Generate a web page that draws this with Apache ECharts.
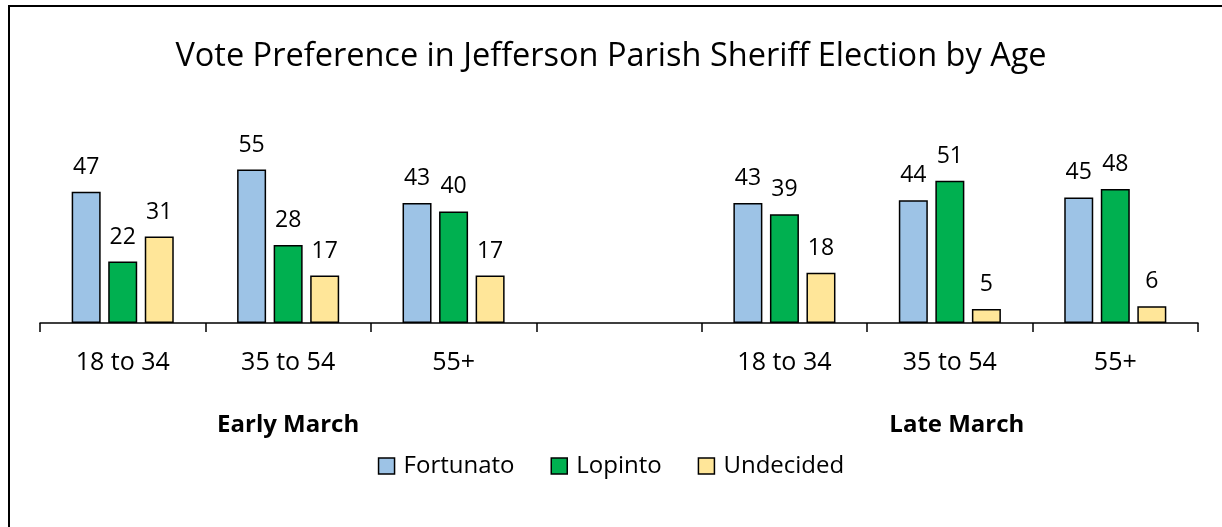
<!DOCTYPE html>
<html>
<head>
<meta charset="utf-8">
<script src="https://cdn.jsdelivr.net/npm/echarts@6/dist/echarts.min.js"></script>
<style>
html,body{margin:0;padding:0;background:#fff;}
#chart{width:1222px;height:527px;}
</style>
</head>
<body>
<div id="chart"></div>
<script>
const categories = ["18 to 34", "35 to 54", "55+", "", "18 to 34", "35 to 54", "55+"];
const groupLabels = ["", "Early March", "", "", "", "Late March", ""];
const fortunato = [47, 55, 43, null, 43, 44, 45];
const lopinto = [22, 28, 40, null, 39, 51, 48];
const undecided = [31, 17, 17, null, 18, 5, 6];
const seriesNames = ["Fortunato", "Lopinto", "Undecided"];
const colors = ["#9DC3E6", "#00B050", "#FFE699"];

const FONT = "Open Sans";
const chart = echarts.init(document.getElementById('chart'), null, {renderer: 'canvas'});

function mkSeries(name, data, color) {
  return {
    name: name,
    type: 'bar',
    data: data,
    barWidth: 29,
    barGap: '26%',
    itemStyle: {color: color, borderColor: '#000', borderWidth: 1.5},
    label: {
      show: true, position: 'top', distance: 13,
      color: '#000', fontFamily: FONT, fontSize: 23
    }
  };
}

const groupAxisData = groupLabels.map(function (g, i) {
  return i === 5 ? {value: g, textStyle: {padding: [0, 0, 0, 14]}} : g;
});

chart.setOption({
  animation: false,
  backgroundColor: '#fff',
  title: {
    text: 'Vote Preference in Jefferson Parish Sheriff Election by Age',
    left: 'center', top: 35,
    textStyle: {fontFamily: FONT, fontSize: 32.5, fontWeight: 'normal', color: '#000'}
  },
  graphic: [{
    type: 'rect', silent: true,
    shape: {x: 9, y: 6, width: 1300, height: 600},
    style: {fill: 'none', stroke: '#000', lineWidth: 2}
  }],
  legend: {
    data: seriesNames,
    left: 'center', top: 449,
    itemWidth: 16, itemHeight: 16, itemGap: 36,
    icon: 'rect',
    itemStyle: {borderColor: '#000', borderWidth: 1.5},
    textStyle: {fontFamily: FONT, fontSize: 24, color: '#000', padding: [0, 0, 0, 4]}
  },
  grid: {left: 40, right: 24, top: 155.6, bottom: 204, containLabel: false},
  xAxis: [{
    type: 'category',
    data: categories,
    position: 'bottom',
    axisLine: {show: true, lineStyle: {color: '#000', width: 1.5}},
    axisTick: {show: true, length: 9, alignWithLabel: false, lineStyle: {color: '#000', width: 1.5}},
    axisLabel: {fontFamily: FONT, fontSize: 25, color: '#000', margin: 27, interval: 0}
  }, {
    type: 'category',
    data: groupAxisData,
    position: 'bottom',
    offset: 82,
    axisLine: {show: false},
    axisTick: {show: false},
    axisLabel: {fontFamily: FONT, fontSize: 24, fontWeight: 'bold', color: '#000', margin: 8, interval: 0}
  }],
  yAxis: {
    type: 'value', min: 0, max: 60, show: false,
    splitLine: {show: false}
  },
  series: [
    mkSeries(seriesNames[0], fortunato, colors[0]),
    mkSeries(seriesNames[1], lopinto, colors[1]),
    mkSeries(seriesNames[2], undecided, colors[2])
  ]
});
</script>
</body>
</html>
